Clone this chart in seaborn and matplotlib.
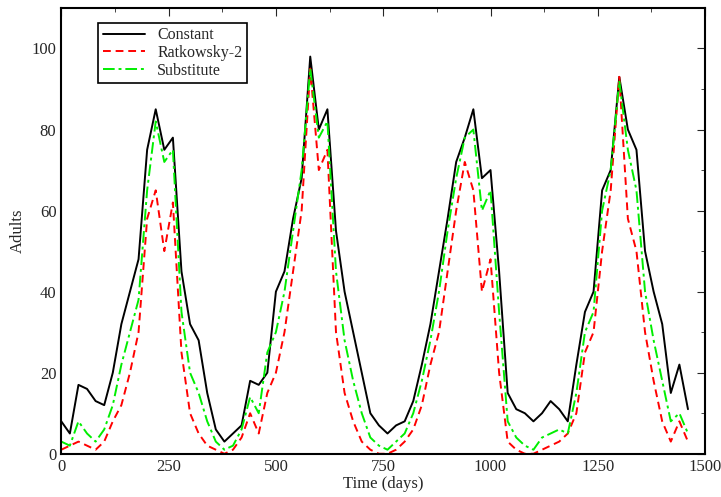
import numpy as np
import pandas as pd
import seaborn as sns
import matplotlib.pyplot as plt
from matplotlib.ticker import MultipleLocator

days = list(range(0, 1461, 20))
constant = [8, 5, 17, 16, 13, 12, 20, 32, 40, 48, 75, 85, 75, 78, 45, 32, 28, 15, 6, 3,
            5, 7, 18, 17, 20, 40, 45, 58, 68, 98, 80, 85, 55, 40, 30, 20, 10, 7, 5, 7,
            8, 13, 22, 32, 45, 58, 72, 78, 85, 68, 70, 45, 15, 11, 10, 8, 10, 13, 11, 8,
            22, 35, 40, 65, 70, 93, 80, 75, 50, 40, 32, 15, 22, 11]
ratkowsky = [1, 2, 3, 2, 1, 3, 8, 12, 20, 30, 58, 65, 50, 62, 25, 10, 5, 2, 1, 0,
             1, 4, 10, 5, 15, 20, 30, 45, 60, 95, 70, 75, 30, 15, 8, 3, 1, 0, 0, 1,
             3, 6, 12, 22, 30, 45, 60, 72, 65, 40, 48, 20, 3, 1, 0, 0, 1, 2, 3, 5,
             10, 25, 30, 50, 65, 93, 58, 50, 30, 18, 8, 3, 8, 3]
substitute = [3, 2, 8, 5, 3, 6, 12, 22, 30, 38, 65, 82, 72, 75, 35, 20, 15, 8, 3, 1,
              2, 6, 14, 10, 25, 30, 40, 55, 70, 95, 78, 82, 45, 28, 18, 10, 4, 2, 1, 3,
              5, 10, 18, 28, 40, 55, 68, 78, 80, 60, 65, 35, 8, 4, 2, 1, 4, 5, 6, 5,
              15, 30, 35, 60, 70, 92, 75, 65, 40, 28, 18, 8, 10, 5]

df = pd.DataFrame({'day': days, 'Constant': constant,
                   'Ratkowsky-2': ratkowsky, 'Substitute': substitute})

sns.set_style('white')
plt.rcParams['font.family'] = ['Liberation Serif', 'DejaVu Serif']

fig, ax = plt.subplots(figsize=(7.21, 4.97), dpi=100)
fig.subplots_adjust(left=0.085, right=0.978, top=0.984, bottom=0.087)
sns.lineplot(data=df, x='day', y='Constant', ax=ax, color='black', lw=1.4, label='Constant')
sns.lineplot(data=df, x='day', y='Ratkowsky-2', ax=ax, color='red', lw=1.4,
             label='Ratkowsky-2').lines[-1].set_linestyle((0, (4, 2.5)))
sns.lineplot(data=df, x='day', y='Substitute', ax=ax, color='#00ee00', lw=1.4,
             label='Substitute').lines[-1].set_linestyle((0, (6, 2, 1.5, 2)))

ax.set_xlim(0, 1500)
ax.set_ylim(0, 110)
ax.xaxis.set_major_locator(MultipleLocator(250))
ax.xaxis.set_minor_locator(MultipleLocator(125))
ax.yaxis.set_major_locator(MultipleLocator(20))
ax.yaxis.set_minor_locator(MultipleLocator(10))
ax.tick_params(which='both', direction='in', top=True, right=True, labelsize=12)
ax.tick_params(which='major', length=6)
ax.tick_params(which='minor', length=3)
ax.set_xlabel('Time (days)', fontsize=12, labelpad=1)
ax.set_ylabel('Adults', fontsize=12)
for s in ax.spines.values():
    s.set_color('black')
    s.set_linewidth(1.5)
leg = ax.legend(loc='upper left', bbox_to_anchor=(0.045, 0.985), fancybox=False,
                edgecolor='black', framealpha=1, fontsize=11.5, handlelength=2.6,
                borderpad=0.3, labelspacing=0.1)
leg.get_frame().set_linewidth(1.2)
fig.savefig('out.png')
